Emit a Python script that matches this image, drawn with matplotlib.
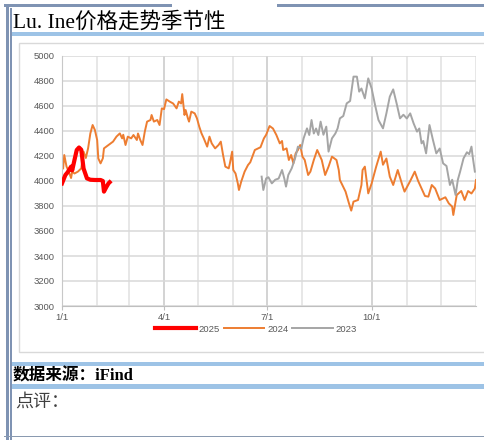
import matplotlib
matplotlib.use("Agg")
import matplotlib.pyplot as plt
from matplotlib.patches import Rectangle

# day of year -> value
days_2025 = [0, 3, 5, 8, 9, 11, 13, 15, 17, 19, 22, 25, 29, 34, 36, 37, 39, 41, 42]
vals_2025 = [3981, 4048, 4070, 4115, 4085, 4168, 4248, 4268, 4250, 4100, 4021, 4010,
             4008, 4008, 4000, 3915, 3950, 3981, 3990]

days_2024 = [1, 2, 4, 6, 8, 9, 11, 14, 17, 19, 21, 23, 25, 27, 29, 31, 32, 34, 36, 37,
             41, 45, 48, 51, 53, 54, 56, 58, 61, 63, 66, 67, 69, 71, 73, 75, 78, 79, 81,
             84, 86, 88, 90, 92, 95, 98, 101, 103, 105, 106, 108, 109, 111, 112, 114,
             117, 119, 121, 123, 125, 128, 130, 132, 135, 138, 140, 142, 144, 147, 148,
             150, 151, 153, 155, 156, 158, 161, 164, 166, 170, 175, 178, 180, 183, 186,
             189, 192, 194, 195, 198, 200, 202, 204, 206, 208, 210, 212, 214, 217, 219,
             222, 225, 227, 229, 232, 235, 238, 242, 244, 245, 250, 253, 255, 257, 261,
             264, 265, 267, 270, 273, 277, 281, 283, 286, 289, 292, 296, 300, 302, 307,
             311, 314, 317, 320, 323, 326, 329, 333, 338, 341, 344, 345, 348, 352, 355,
             358, 361, 364, 365]
vals_2024 = [4101, 4208, 4115, 4075, 4024, 4075, 4060, 4075, 4101, 4235, 4184, 4261,
             4381, 4448, 4408, 4328, 4181, 4141, 4181, 4261, 4288, 4315, 4355, 4381,
             4341, 4370, 4288, 4355, 4341, 4368, 4328, 4380, 4328, 4288, 4395, 4475,
             4488, 4528, 4475, 4488, 4448, 4581, 4575, 4653, 4635, 4620, 4581, 4635,
             4620, 4695, 4528, 4568, 4501, 4475, 4555, 4541, 4501, 4435, 4381, 4341,
             4275, 4355, 4301, 4261, 4288, 4315, 4208, 4115, 4101, 4141, 4235, 4088,
             4060, 3981, 3928, 3995, 4075, 4128, 4150, 4248, 4270, 4341, 4370, 4440,
             4420, 4368, 4301, 4320, 4248, 4261, 4168, 4208, 4141, 4221, 4248, 4288,
             4195, 4168, 4048, 4075, 4168, 4248, 4208, 4168, 4048, 4115, 4195, 4168,
             4088, 4008, 3915, 3821, 3763, 3835, 3848, 3968, 4088, 4115, 3901, 3981,
             4115, 4235, 4130, 4180, 4035, 3968, 4088, 3968, 3915, 4000, 4075, 4000,
             3941, 3880, 3875, 3968, 3940, 3848, 3870, 3821, 3795, 3728, 3888, 3920,
             3848, 3920, 3900, 3940, 4008]

days_2023 = [176, 177.5, 180, 182, 185, 188, 191, 194, 196, 197.5, 199.5, 202.5, 205.5,
             208, 211, 213, 216, 218, 220, 222, 224, 226, 228, 230.5, 233, 235, 238,
             241, 243, 245, 248, 251, 254, 257, 260, 262, 264, 267, 270, 273, 276, 279,
             283, 286, 289, 292, 295, 298, 301, 304, 307, 310, 313, 315, 317, 318.5,
             321, 324, 327, 330, 333, 336, 339, 342, 344, 347, 349, 351, 354, 357, 359,
             361, 362, 364]
vals_2023 = [4035, 3928, 4021, 4030, 3981, 4010, 4020, 4088, 4020, 3955, 4048, 4101,
             4181, 4275, 4260, 4341, 4421, 4368, 4488, 4380, 4420, 4368, 4475, 4370,
             4435, 4235, 4341, 4380, 4421, 4501, 4520, 4621, 4640, 4835, 4835, 4715,
             4740, 4661, 4821, 4740, 4608, 4488, 4421, 4541, 4675, 4733, 4621, 4501,
             4530, 4500, 4541, 4461, 4395, 4420, 4301, 4320, 4221, 4448, 4330, 4221,
             4260, 4141, 4120, 3968, 4010, 3888, 4010, 4075, 4181, 4230, 4215, 4275,
             4200, 4075]

month_starts = [0, 31, 59, 90, 120, 151, 181, 212, 273, 304, 334, 365]  # no 9/1 line in source
quarter_days = [0, 90, 181, 273]
quarter_labels = ["1/1", "4/1", "7/1", "10/1"]

W, H = 484, 440
fig = plt.figure(figsize=(W / 100, H / 100), dpi=100)

# page decoration drawn in pixel coords
bg = fig.add_axes([0, 0, 1, 1])
bg.set_xlim(0, W)
bg.set_ylim(H, 0)
bg.axis("off")

frame = "#7f93b3"
blue = "#9dc3e6"
bg.add_patch(Rectangle((4, 4), 168, 3, color=frame, lw=0))
bg.add_patch(Rectangle((277, 4), 210, 3, color=frame, lw=0))
bg.add_patch(Rectangle((6, 4), 2.5, 436, color=frame, lw=0))
bg.add_patch(Rectangle((10, 8), 1.5, 432, color=frame, lw=0))
bg.add_patch(Rectangle((12, 32), 480, 4.5, color=blue, lw=0))
bg.add_patch(Rectangle((19, 43), 480, 309, facecolor="white", edgecolor="#d9d9d9", lw=1))
bg.add_patch(Rectangle((12, 362), 480, 4.5, color=blue, lw=0))
bg.add_patch(Rectangle((12, 384), 480, 5, color=blue, lw=0))
bg.add_patch(Rectangle((4, 436), 490, 1.5, color="#8a9ab0", lw=0))

bg.text(13, 22.5, "Lu. Ine价格走势季节性", fontsize=15.5, va="center", ha="left",
        family=["Liberation Serif", "Noto Sans CJK SC"], color="black")
bg.text(13, 376, "数据来源：iFind", fontsize=12, va="center", ha="left", weight="bold",
        family=["Liberation Serif", "Noto Sans CJK SC"], color="black")
bg.text(15, 402, "点评：", fontsize=13, va="center", ha="left",
        family=["Noto Sans CJK SC"], color="#404040")

# main chart: x 62..476, y 56..306 px
ax = fig.add_axes([62 / W, (H - 306) / H, 414 / W, 250 / H])
ax.set_facecolor("white")

for d in month_starts:
    c = "#c8c8c8" if d in quarter_days else "#e0e0e0"
    ax.axvline(d, color=c, lw=1.1, zorder=0)
for v in range(3000, 5001, 200):
    ax.axhline(v, color="#d9d9d9", lw=1.1, zorder=0)

ax.plot(days_2024, vals_2024, color="#ed7d31", lw=1.4, label="2024", zorder=2)
ax.plot(days_2023, vals_2023, color="#a5a5a5", lw=1.4, label="2023", zorder=2)
ax.plot(days_2025, vals_2025, color="#ff0000", lw=3.0, label="2025", zorder=3)

ax.set_xlim(0, 365)
ax.set_ylim(3000, 5000)
ax.set_yticks(range(3000, 5001, 200))
ax.set_xticks(quarter_days)
ax.set_xticklabels(quarter_labels)
ax.tick_params(axis="y", length=0, pad=5, labelsize=6.8, labelcolor="#595959")
ax.tick_params(axis="x", length=3, color="#bfbfbf", pad=2, labelsize=6.8, labelcolor="#595959")
for lab in ax.get_xticklabels() + ax.get_yticklabels():
    lab.set_family("Liberation Sans")
for s in ["top", "right"]:
    ax.spines[s].set_visible(False)
ax.spines["left"].set_color("#c8c8c8")
ax.spines["bottom"].set_color("#bfbfbf")

handles, labels = ax.get_legend_handles_labels()
order = [2, 0, 1]
fig.legend([handles[i] for i in order], [labels[i] for i in order],
           loc="center", bbox_to_anchor=(256 / W, 1 - 329 / H), ncol=3, frameon=False,
           prop={"family": "Liberation Sans", "size": 6.8}, labelcolor="#595959",
           handlelength=4.3, handletextpad=0.3, columnspacing=0.4)

fig.savefig("out.png", dpi=100)
